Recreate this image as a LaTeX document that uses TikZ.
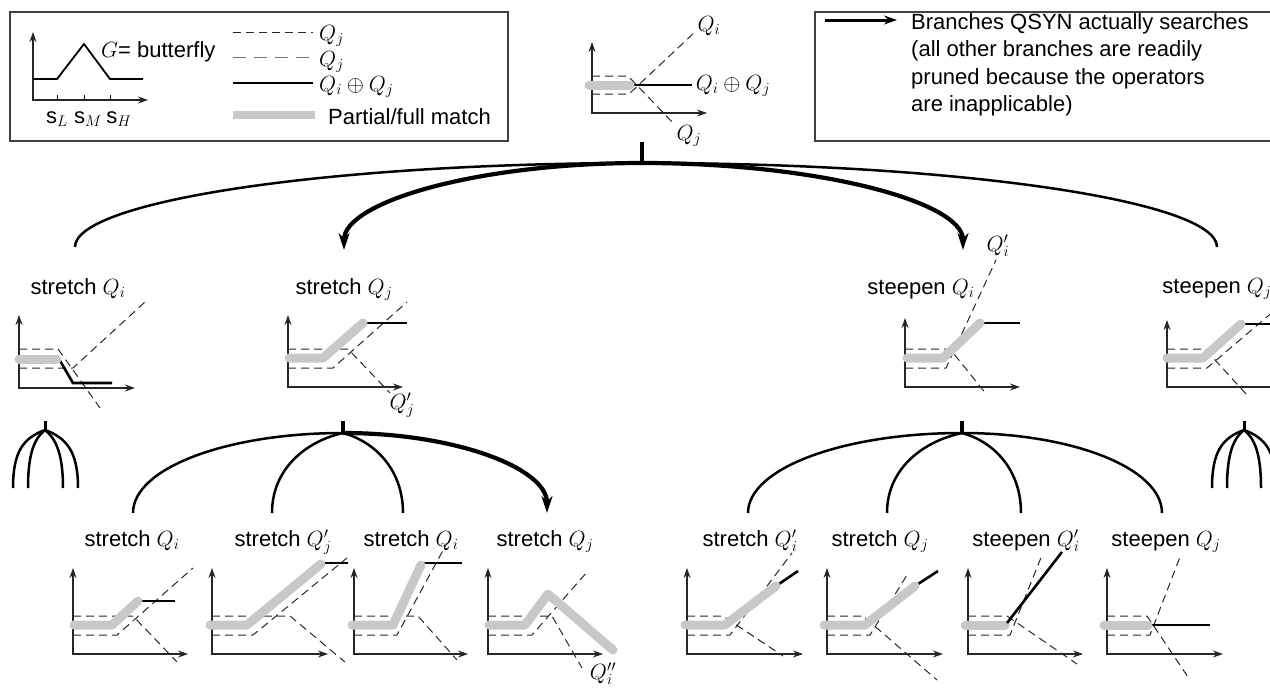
\documentclass[tikz,border=0pt]{standalone}
\usepackage{fix-cm}
\usepackage{fontspec}
\setmainfont{Liberation Sans}
\usetikzlibrary{arrows.meta}
\definecolor{matchgray}{RGB}{200,200,200}
\tikzset{
 qaxis/.style={line width=1.1pt, draw=black!85, {Stealth[length=10pt,width=7pt]}-{Stealth[length=10pt,width=7pt]}},
 qdash/.style={line width=1pt, draw=black!85, dash pattern=on 8pt off 5pt},
 qdashlong/.style={line width=1pt, draw=black!55, dash pattern=on 13pt off 8pt},
 qmatch/.style={line width=9pt, draw=matchgray, line cap=round, line join=round},
 qsum/.style={line width=2.6pt, draw=black},
 treethin/.style={line width=2.5pt},
 treethick/.style={line width=4.2pt, -{Stealth[length=17pt,width=11pt]}},
 stem/.style={line width=4.5pt},
 lbl/.style={anchor=base, inner sep=0pt, font=\fontsize{22}{27}\selectfont},
 qlbl/.style={inner sep=0pt, font=\fontsize{22}{27}\selectfont},
 legbox/.style={draw=black!75, line width=1.1pt},
}
\newcommand{\qax}[4]{\draw[qaxis] (#1,#4) -- (#1,#2) -- (#3,#2);}
\begin{document}
\begin{tikzpicture}[x=1pt,y=-1pt]
\useasboundingbox (0,0) rectangle (1270,688);

% ---------- legend left ----------
\draw[legbox] (10,12) rectangle (508,141);
\qax{33}{100}{148}{32}
\foreach \t in {57,84,110} \draw[line width=1pt] (\t,95) -- (\t,100);
\draw[line width=1.8pt] (33,79) -- (57,79) -- (84,44) -- (110,79) -- (143,79);
\node[lbl] (sl) at (57,123) {s$_L$};
\node[lbl] (sm) at (88,123) {s$_M$};
\node[lbl] (sh) at (119,123) {s$_H$};
\node[lbl,anchor=base west] (gb) at (101,57) {$G$= butterfly};
\draw[qdash] (233,32) -- (313,32);
\node[lbl,anchor=base west] (lq1) at (319,40) {$Q_j$};
\draw[qdashlong] (233,57) -- (313,57);
\node[lbl,anchor=base west] (lq2) at (319,66) {$Q_j$};
\draw[qsum] (233,83) -- (313,83);
\node[lbl,anchor=base west] (lq3) at (319,91) {$Q_i\oplus Q_j$};
\fill[matchgray] (233,111) rectangle (315,119);
\node[lbl,anchor=base west] (lq4) at (328,124) {Partial/full match};

% ---------- legend right ----------
\draw[legbox] (815,12) rectangle (1290,141);
\draw[line width=3pt,-{Stealth[length=13pt,width=9pt]}] (825,20) -- (897,20);
\node[lbl,anchor=base west] (t1) at (911,29) {Branches QSYN actually searches};
\node[lbl,anchor=base west] (t2) at (911,56.5) {(all other branches are readily};
\node[lbl,anchor=base west] (t3) at (911,84) {pruned because the operators};
\node[lbl,anchor=base west] (t4) at (911,111) {are inapplicable)};

% ---------- root plot ----------
\qax{592}{113}{707}{42}
\draw[qdash] (592,76) -- (628,76) -- (675,125);
\draw[qdash] (592,94) -- (629,94) -- (696,31);
\draw[qsum] (632,85) -- (692,85);
\draw[qmatch] (589,85) -- (630,85);
\node[qlbl] (rqi) at (709,26) {$Q_i$};
\node[qlbl] (rqs) at (733,86) {$Q_i\oplus Q_j$};
\node[qlbl] (rqj) at (689,136) {$Q_j$};

% ---------- tree level 1 ----------
\coordinate (r0) at (642,142);
\coordinate (r1) at (642,163);
\coordinate (c1) at (75,247);
\coordinate (c2) at (344,250);
\coordinate (c3) at (963,250);
\coordinate (c4) at (1217,247);
\draw[stem] (r0) -- (r1);
\draw[treethin] (r1) .. controls +(-313,0) and +(0,-46) .. (c1);
\draw[treethin] (r1) .. controls +(317,0) and +(0,-46) .. (c4);
\draw[treethick] (r1) .. controls +(-165,0) and +(0,-48) .. (c2);
\draw[treethick] (r1) .. controls +(177,0) and +(0,-48) .. (c3);

% P1 stretch Qi
\node[lbl] (p1) at (78,294) {stretch $Q_i$};
\qax{19}{388}{135}{315}
\draw[qdash] (19,349) -- (58,349) -- (100,408);
\draw[qdash] (19,368) -- (73,368) -- (145,302);
\draw[qsum] (59,359) -- (73,383) -- (112,383);
\draw[qmatch] (19,359) -- (57,359);

% P2 stretch Qj
\node[lbl] (p2) at (344,294) {stretch $Q_j$};
\qax{288}{387}{403}{315}
\draw[qdash] (288,349) -- (348,349) -- (390,393);
\draw[qdash] (288,368) -- (333,368) -- (407,302);
\draw[qsum] (365,323) -- (407,323);
\draw[qmatch] (289,358) -- (323,358) -- (363,323);
\node[qlbl] (p2q) at (402,405) {$Q_j'$};

% P3 steepen Qi
\node[lbl] (p3) at (921,294) {steepen $Q_i$};
\qax{905}{387}{1020}{318}
\draw[qdash] (905,349) -- (950,349) -- (987,395);
\draw[qdash] (905,368) -- (946,368) -- (996,260);
\draw[qsum] (982,323) -- (1020,323);
\draw[qmatch] (907,358) -- (943,358) -- (980,323);
\node[qlbl] (p3q) at (998,246) {$Q_i'$};

% P4 steepen Qj
\node[lbl] (p4) at (1217,293) {steepen $Q_j$};
\qax{1167}{387}{1290}{320}
\draw[qdash] (1167,349) -- (1205,349) -- (1247,395);
\draw[qdash] (1167,368) -- (1207,368) -- (1275,310);
\draw[qsum] (1245,324) -- (1290,324);
\draw[qmatch] (1167,358) -- (1203,358) -- (1241,324);

% ---------- small bundles ----------
\coordinate (b1a) at (45,421); \coordinate (b1) at (45,430);
\draw[stem,line width=3pt] (b1a) -- (b1);
\coordinate (b1e1) at (13,488); \coordinate (b1e2) at (28,488);
\coordinate (b1e3) at (63,488); \coordinate (b1e4) at (78,488);
\draw[treethin] (b1) .. controls +(-22,8) and +(0,-36) .. (b1e1);
\draw[treethin] (b1) .. controls +(-10,8) and +(0,-36) .. (b1e2);
\draw[treethin] (b1) .. controls +(10,8) and +(0,-36) .. (b1e3);
\draw[treethin] (b1) .. controls +(22,8) and +(0,-36) .. (b1e4);

\coordinate (b2a) at (1244,421); \coordinate (b2) at (1244,430);
\draw[stem,line width=3pt] (b2a) -- (b2);
\coordinate (b2e1) at (1212,488); \coordinate (b2e2) at (1227,488);
\coordinate (b2e3) at (1261,488); \coordinate (b2e4) at (1276,488);
\draw[treethin] (b2) .. controls +(-22,8) and +(0,-36) .. (b2e1);
\draw[treethin] (b2) .. controls +(-10,8) and +(0,-36) .. (b2e2);
\draw[treethin] (b2) .. controls +(10,8) and +(0,-36) .. (b2e3);
\draw[treethin] (b2) .. controls +(22,8) and +(0,-36) .. (b2e4);

% ---------- tree level 2 ----------
\coordinate (s1a) at (343,421); \coordinate (s1) at (343,433);
\draw[stem,line width=3.5pt] (s1a) -- (s1);
\coordinate (d1) at (133,513); \coordinate (d2) at (272,513);
\coordinate (d3) at (403,513); \coordinate (d4) at (547,513);
\draw[treethin] (s1) .. controls +(-116,0) and +(0,-45) .. (d1);
\draw[treethin] (s1) .. controls +(-36,8) and +(0,-45) .. (d2);
\draw[treethin] (s1) .. controls +(30,8) and +(0,-45) .. (d3);
\draw[treethick] (s1) .. controls +(112,0) and +(0,-45) .. (d4);

\coordinate (s2a) at (962,421); \coordinate (s2) at (962,433);
\draw[stem,line width=3.5pt] (s2a) -- (s2);
\coordinate (e1) at (748,513); \coordinate (e2) at (887,513);
\coordinate (e3) at (1021,513); \coordinate (e4) at (1162,513);
\draw[treethin] (s2) .. controls +(-118,0) and +(0,-45) .. (e1);
\draw[treethin] (s2) .. controls +(-38,8) and +(0,-45) .. (e2);
\draw[treethin] (s2) .. controls +(30,8) and +(0,-45) .. (e3);
\draw[treethin] (s2) .. controls +(110,0) and +(0,-45) .. (e4);

% L1 stretch Qi
\node[lbl] (l1) at (132,546) {stretch $Q_i$};
\qax{73}{654}{188}{568}
\draw[qdash] (73,616) -- (133,616) -- (177,662);
\draw[qdash] (73,635) -- (117,635) -- (193,568);
\draw[qsum] (140,601) -- (175,601);
\draw[qmatch] (74,625) -- (112,625) -- (138,601);

% L2 stretch Qj'
\node[lbl] (l2) at (283,546) {stretch $Q_j'$};
\qax{212}{654}{328}{568}
\draw[qdash] (212,616) -- (290,616) -- (345,662);
\draw[qdash] (212,635) -- (253,635) -- (347,558);
\draw[qsum] (323,563) -- (348,563);
\draw[qmatch] (210,625) -- (247,625) -- (321,564);

% L3 stretch Qi
\node[lbl] (l3) at (411,546) {stretch $Q_i$};
\qax{354}{654}{468}{568}
\draw[qdash] (354,616) -- (418,616) -- (457,660);
\draw[qdash] (354,635) -- (397,635) -- (447,543);
\draw[qsum] (423,563) -- (462,563);
\draw[qmatch] (352,625) -- (393,625) -- (421,565);

% L4 stretch Qj
\node[lbl] (l4) at (545,546) {stretch $Q_j$};
\qax{488}{654}{603}{568}
\draw[qdash] (488,616) -- (552,616) -- (582,668);
\draw[qdash] (488,635) -- (532,635) -- (587,572);
\draw[qmatch] (489,625) -- (525,625) -- (548,594) -- (613,650);
\node[qlbl,anchor=base] (l4q) at (603,679) {$Q_i''$};

% R1 stretch Qi'
\node[lbl] (m1) at (750,546) {stretch $Q_i'$};
\qax{687}{654}{803}{568}
\draw[qdash] (687,616) -- (723,616) -- (783,656);
\draw[qdash] (687,635) -- (730,635) -- (792,553);
\draw[qsum] (776,586) -- (798,571);
\draw[qmatch] (685,625) -- (725,625) -- (776,586);

% R2 stretch Qj
\node[lbl] (m2) at (880,546) {stretch $Q_j$};
\qax{827}{654}{943}{568}
\draw[qdash] (827,616) -- (863,616) -- (937,680);
\draw[qdash] (827,635) -- (870,635) -- (907,575);
\draw[qsum] (915,586) -- (938,571);
\draw[qmatch] (824,625) -- (865,625) -- (915,586);

% R3 steepen Qi'
\node[lbl] (m3) at (1026,546) {steepen $Q_i'$};
\qax{968}{654}{1083}{568}
\draw[qdash] (968,616) -- (1007,616) -- (1077,664);
\draw[qdash] (968,635) -- (1010,635) -- (1042,555);
\draw[qmatch] (965,625) -- (1005,625);
\draw[qsum] (1007,623) -- (1062,552);

% R4 steepen Qj
\node[lbl] (m4) at (1166,546) {steepen $Q_j$};
\qax{1107}{654}{1223}{568}
\draw[qdash] (1107,616) -- (1147,616) -- (1188,677);
\draw[qdash] (1107,635) -- (1150,635) -- (1180,557);
\draw[qsum] (1150,625) -- (1210,625);
\draw[qmatch] (1104,625) -- (1148,625);
\end{tikzpicture}
\end{document}
